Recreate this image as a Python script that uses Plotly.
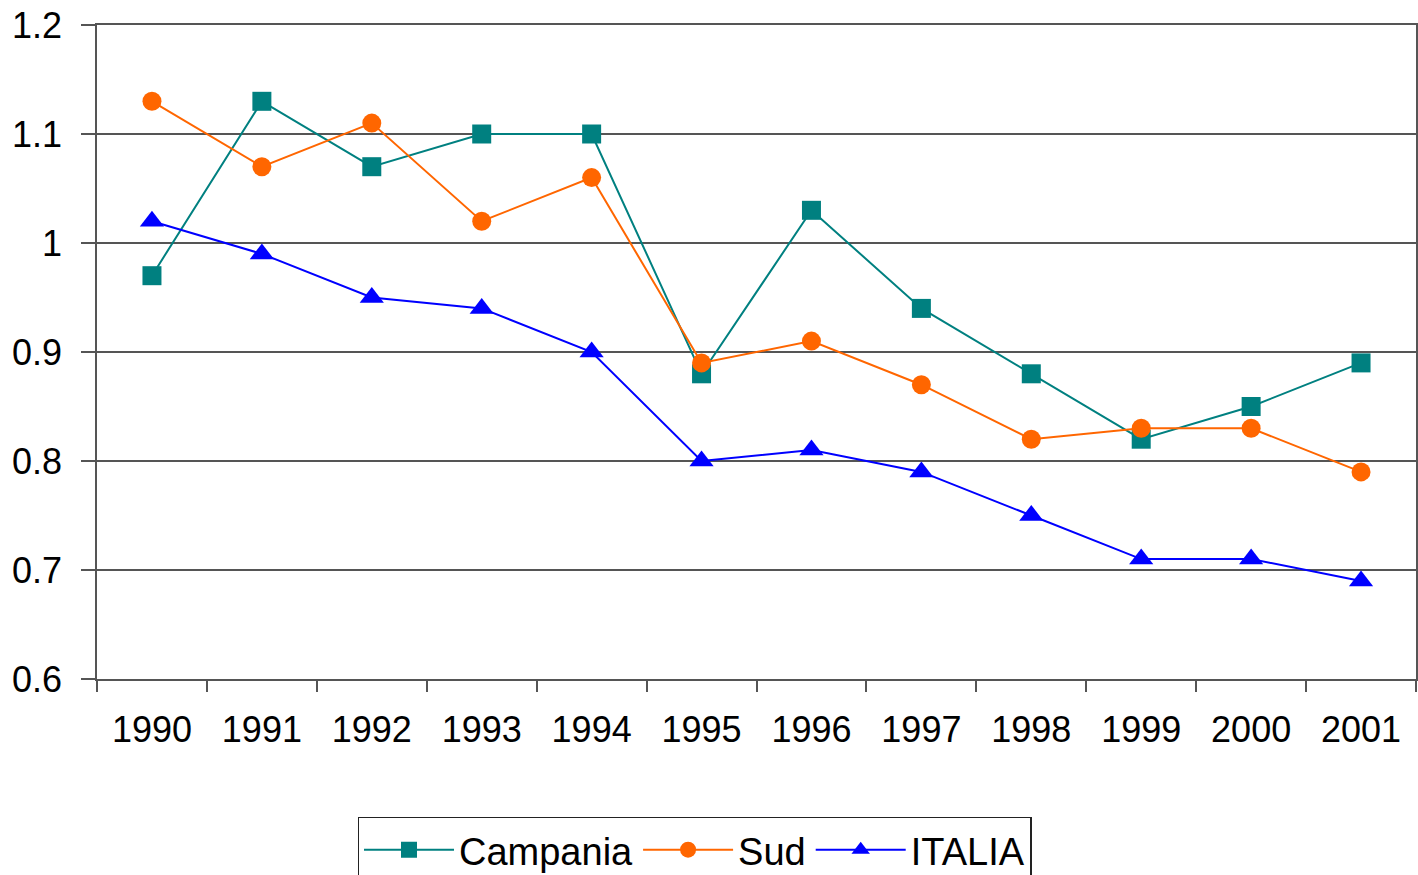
import plotly.graph_objects as go

years = ["1990", "1991", "1992", "1993", "1994", "1995", "1996", "1997", "1998", "1999", "2000", "2001"]
campania = [0.97, 1.13, 1.07, 1.10, 1.10, 0.88, 1.03, 0.94, 0.88, 0.82, 0.85, 0.89]
sud = [1.13, 1.07, 1.11, 1.02, 1.06, 0.89, 0.91, 0.87, 0.82, 0.83, 0.83, 0.79]
italia = [1.02, 0.99, 0.95, 0.94, 0.90, 0.80, 0.81, 0.79, 0.75, 0.71, 0.71, 0.69]
y_ticks = [0.6, 0.7, 0.8, 0.9, 1.0, 1.1, 1.2]
y_tick_text = ["0.6", "0.7", "0.8", "0.9", "1", "1.1", "1.2"]

FONT = "Liberation Sans, Arial, sans-serif"

fig = go.Figure()
fig.add_trace(go.Scatter(x=years, y=campania, name="Campania", mode="lines+markers",
                         line=dict(color="#008080", width=2),
                         marker=dict(symbol="square", size=19, color="#008080")))
fig.add_trace(go.Scatter(x=years, y=sud, name="Sud", mode="lines+markers",
                         line=dict(color="#FF6600", width=2),
                         marker=dict(symbol="circle", size=19, color="#FF6600")))
fig.add_trace(go.Scatter(x=years, y=italia, name="ITALIA", mode="lines+markers",
                         line=dict(color="#0000FF", width=2),
                         marker=dict(symbol="triangle-up", size=21, color="#0000FF")))

fig.update_layout(
    width=1418, height=875,
    margin=dict(l=97, r=2, t=25, b=196, autoexpand=False),
    paper_bgcolor="white", plot_bgcolor="white",
    font=dict(family=FONT, color="black", size=35),
    showlegend=True,
    legend=dict(orientation="h", x=0.453, xanchor="center", y=-0.211, yanchor="top",
                bordercolor="#222222", borderwidth=1.5, font=dict(size=38),
                itemwidth=90, bgcolor="white"),
    xaxis=dict(type="category", range=[-0.5, 11.5], automargin=False,
               showgrid=False, showline=True, linecolor="#555555", linewidth=1.5, mirror=True,
               ticks="outside", tickson="boundaries", ticklen=11, tickcolor="#555555", tickwidth=1.5,
               tickfont=dict(size=36), ticklabelstandoff=18, ticklabeloverflow="allow"),
    yaxis=dict(range=[0.6, 1.2], tickvals=y_ticks, ticktext=y_tick_text, automargin=False,
               showgrid=True, gridcolor="#555555", gridwidth=1.5,
               showline=True, linecolor="#555555", linewidth=1.5, mirror=True,
               ticks="outside", ticklen=14, tickcolor="#555555", tickwidth=1.5,
               tickfont=dict(size=36), ticklabelstandoff=12, zeroline=False,
               ticklabeloverflow="allow"),
)

fig.write_html("out.html", config={"displayModeBar": False},
               post_script="document.body.style.margin='0';")
